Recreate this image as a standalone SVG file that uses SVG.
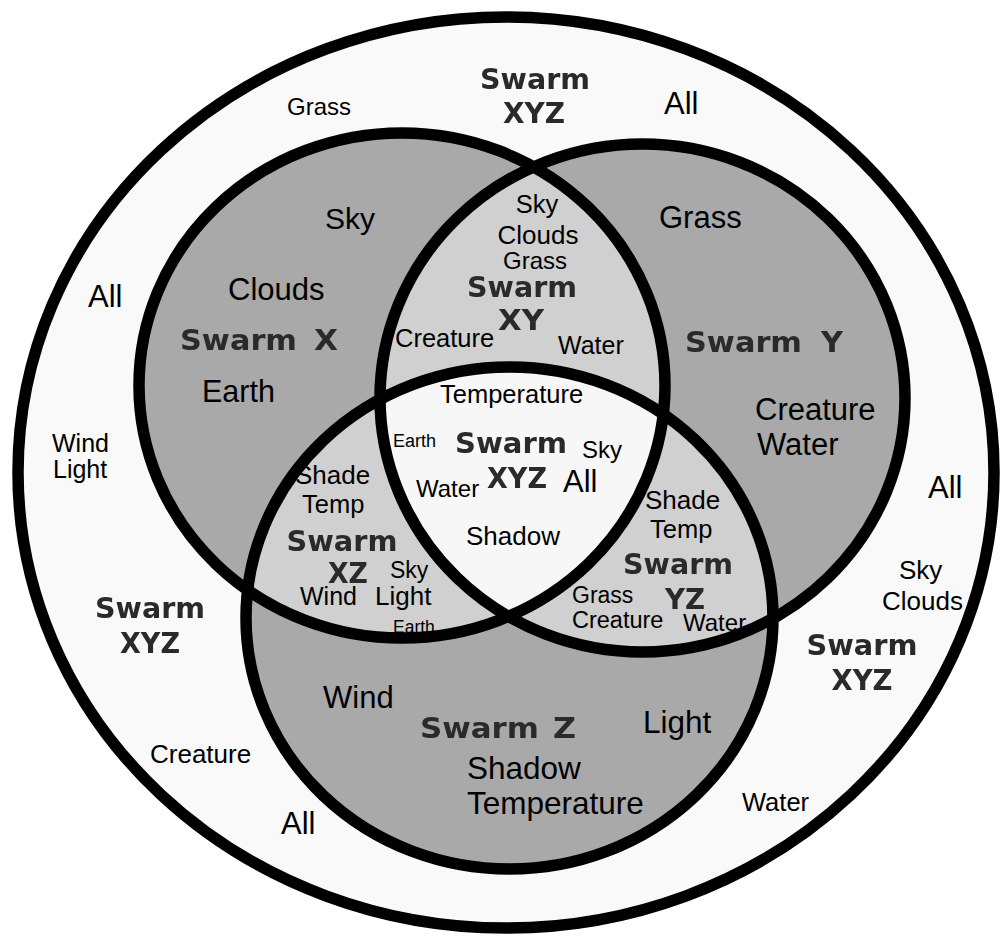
<svg xmlns="http://www.w3.org/2000/svg" width="1002" height="936" viewBox="0 0 1002 936">
<defs>
  <clipPath id="cX"><ellipse cx="402" cy="385.5" rx="263" ry="252.5"/></clipPath>
  <clipPath id="cY"><ellipse cx="642.5" cy="398" rx="262.5" ry="254"/></clipPath>
  <filter id="soft" x="-5%" y="-10%" width="110%" height="120%"><feGaussianBlur stdDeviation="0.7"/></filter>
  <style>
    .ln{fill:none;stroke:#000;stroke-width:11.5}
    .t{font-family:"Liberation Sans",Arial,sans-serif;fill:#000}
    .b{font-family:"DejaVu Sans","Liberation Sans",sans-serif;font-weight:bold;fill:#2b2b2b;font-size:29px;filter:url(#soft)}
    .m{text-anchor:middle}
  </style>
</defs>
<rect width="1002" height="936" fill="#ffffff"/>
<g id="regions">
  <ellipse id="outer-fill" cx="506" cy="472.5" rx="488" ry="455.5" fill="#f9f9f9"/>
  <ellipse cx="402" cy="385.5" rx="263" ry="252.5" fill="#a9a9a9"/>
  <ellipse cx="642.5" cy="398" rx="262.5" ry="254" fill="#a9a9a9"/>
  <ellipse cx="509.5" cy="618" rx="263.5" ry="251" fill="#a9a9a9"/>
  <ellipse cx="642.5" cy="398" rx="262.5" ry="254" fill="#d0d0d0" clip-path="url(#cX)"/>
  <ellipse cx="509.5" cy="618" rx="263.5" ry="251" fill="#d0d0d0" clip-path="url(#cX)"/>
  <ellipse cx="509.5" cy="618" rx="263.5" ry="251" fill="#d0d0d0" clip-path="url(#cY)"/>
  <g clip-path="url(#cX)"><ellipse cx="509.5" cy="618" rx="263.5" ry="251" fill="#f7f7f7" clip-path="url(#cY)"/></g>
</g>
<g id="connectors">
  <ellipse id="outer" class="ln" cx="506" cy="472.5" rx="488" ry="455.5"/>
  <ellipse id="circleX" class="ln" cx="402" cy="385.5" rx="263" ry="252.5"/>
  <ellipse id="circleY" class="ln" cx="642.5" cy="398" rx="262.5" ry="254"/>
  <ellipse id="circleZ" class="ln" cx="509.5" cy="618" rx="263.5" ry="251"/>
</g>
<g id="outer-labels">
  <text class="b m" x="535" y="89" textLength="110" lengthAdjust="spacingAndGlyphs">Swarm</text>
  <text class="b m" x="534" y="123" textLength="62" lengthAdjust="spacingAndGlyphs">XYZ</text>
  <text class="t" x="287" y="115" font-size="24">Grass</text>
  <text class="t" x="664" y="114" font-size="31">All</text>
  <text class="t" x="88" y="307" font-size="31">All</text>
  <text class="t" x="52" y="452" font-size="25">Wind</text>
  <text class="t" x="53" y="478" font-size="25">Light</text>
  <text class="t" x="928" y="498" font-size="31">All</text>
  <text class="t" x="899" y="579" font-size="26">Sky</text>
  <text class="t" x="882" y="610" font-size="26">Clouds</text>
  <text class="b m" x="862" y="655" textLength="111" lengthAdjust="spacingAndGlyphs">Swarm</text>
  <text class="b m" x="862" y="690" textLength="61" lengthAdjust="spacingAndGlyphs">XYZ</text>
  <text class="b m" x="150" y="618" textLength="110" lengthAdjust="spacingAndGlyphs">Swarm</text>
  <text class="b m" x="150" y="653" textLength="60" lengthAdjust="spacingAndGlyphs">XYZ</text>
  <text class="t" x="150" y="763" font-size="26">Creature</text>
  <text class="t" x="281" y="834" font-size="31">All</text>
  <text class="t" x="742" y="811" font-size="25.5">Water</text>
</g>
<g id="swarmX">
  <text class="t" x="325" y="229" font-size="30">Sky</text>
  <text class="t" x="228" y="300" font-size="31">Clouds</text>
  <text class="b" x="180" y="350" textLength="117" lengthAdjust="spacingAndGlyphs">Swarm</text>
  <text class="b" x="314" y="350" textLength="24" lengthAdjust="spacingAndGlyphs">X</text>
  <text class="t" x="202" y="402" font-size="30.5">Earth</text>
</g>
<g id="swarmY">
  <text class="t" x="659" y="228" font-size="31">Grass</text>
  <text class="b" x="685" y="352" textLength="117" lengthAdjust="spacingAndGlyphs">Swarm</text>
  <text class="b" x="821" y="352" textLength="22" lengthAdjust="spacingAndGlyphs">Y</text>
  <text class="t" x="755" y="420" font-size="31">Creature</text>
  <text class="t" x="757" y="455" font-size="31">Water</text>
</g>
<g id="swarmZ">
  <text class="t" x="323" y="708" font-size="31">Wind</text>
  <text class="b" x="420" y="738" textLength="119" lengthAdjust="spacingAndGlyphs">Swarm</text>
  <text class="b" x="553" y="738" textLength="23" lengthAdjust="spacingAndGlyphs">Z</text>
  <text class="t" x="643" y="733" font-size="31.5">Light</text>
  <text class="t" x="467" y="779" font-size="31.5">Shadow</text>
  <text class="t" x="467" y="814" font-size="31.5">Temperature</text>
</g>
<g id="swarmXY">
  <text class="t m" x="537" y="213" font-size="25.5">Sky</text>
  <text class="t m" x="538" y="244" font-size="26">Clouds</text>
  <text class="t m" x="535" y="269" font-size="24">Grass</text>
  <text class="b m" x="522" y="297" textLength="110" lengthAdjust="spacingAndGlyphs">Swarm</text>
  <text class="b m" x="521" y="330" textLength="46" lengthAdjust="spacingAndGlyphs">XY</text>
  <text class="t" x="395" y="347" font-size="25.5">Creature</text>
  <text class="t" x="558" y="354" font-size="25">Water</text>
</g>
<g id="swarmXYZ">
  <text class="t" x="440" y="403" font-size="25.5">Temperature</text>
  <text class="t" x="393" y="447" font-size="18">Earth</text>
  <text class="b m" x="511" y="453" textLength="112" lengthAdjust="spacingAndGlyphs">Swarm</text>
  <text class="t" x="582" y="458" font-size="24">Sky</text>
  <text class="b m" x="517" y="488" textLength="60" lengthAdjust="spacingAndGlyphs">XYZ</text>
  <text class="t" x="563" y="492" font-size="31">All</text>
  <text class="t" x="416" y="497" font-size="24">Water</text>
  <text class="t" x="466" y="545" font-size="26">Shadow</text>
</g>
<g id="swarmXZ">
  <text class="t" x="295" y="484" font-size="26">Shade</text>
  <text class="t" x="302" y="513" font-size="25.5">Temp</text>
  <text class="b m" x="342" y="551" textLength="111" lengthAdjust="spacingAndGlyphs">Swarm</text>
  <text class="b m" x="348" y="583" textLength="40" lengthAdjust="spacingAndGlyphs">XZ</text>
  <text class="t" x="390" y="578" font-size="23">Sky</text>
  <text class="t" x="300" y="605" font-size="25">Wind</text>
  <text class="t" x="375" y="605" font-size="26">Light</text>
  <text class="t" x="393" y="633" font-size="17.5">Earth</text>
</g>
<g id="swarmYZ">
  <text class="t" x="645" y="509" font-size="26">Shade</text>
  <text class="t" x="650" y="538" font-size="25.5">Temp</text>
  <text class="b m" x="678" y="574" textLength="110" lengthAdjust="spacingAndGlyphs">Swarm</text>
  <text class="b m" x="685" y="609" textLength="40" lengthAdjust="spacingAndGlyphs">YZ</text>
  <text class="t" x="572" y="603" font-size="23">Grass</text>
  <text class="t" x="572" y="628" font-size="23.5">Creature</text>
  <text class="t" x="683" y="631" font-size="24">Water</text>
</g>
</svg>
